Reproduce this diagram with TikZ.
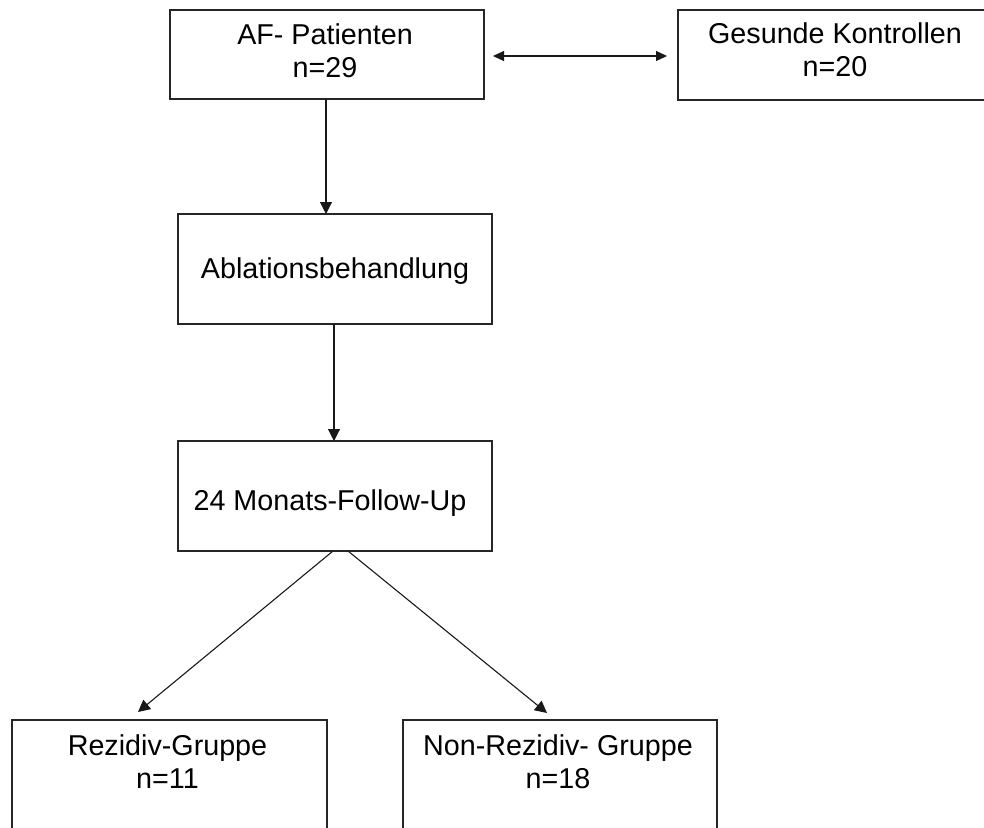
\documentclass[tikz,border=0pt]{standalone}
\usepackage{fontspec}
\setmainfont{Liberation Sans}
\usetikzlibrary{arrows.meta}
\tikzset{
  box/.style={draw=black!85, line width=1.3pt, rectangle, minimum width=314pt, inner sep=0pt, outer sep=0pt},
  txt/.style={anchor=base, inner sep=0pt, font=\fontsize{28.7}{33}\selectfont},
  conn/.style={draw=black!90, line width=1.1pt, -{Triangle[length=12pt,width=12pt]}},
  dconn/.style={draw=black!90, line width=1.1pt, {Triangle[length=11pt,width=10pt]}-{Triangle[length=11pt,width=10pt]}}
}
\newcommand{\twolines}[2]{\setlength{\tabcolsep}{0pt}\begin{tabular}[t]{c}#1\\#2\end{tabular}}
\begin{document}
\begin{tikzpicture}[x=1pt,y=-1pt]
\useasboundingbox (0,0) rectangle (984,827);
\clip (0,0) rectangle (984,827);
% boxes
\node[box, minimum height=89pt] (b1) at (327,54.5) {};
\node[box, minimum height=90pt] (b2) at (835,55) {};
\node[box, minimum height=110pt] (b3) at (335,269) {};
\node[box, minimum height=110pt] (b4) at (335,496) {};
\node[box, minimum width=315pt, minimum height=120pt] (b5) at (169.5,780) {};
\node[box, minimum height=120pt] (b6) at (560,780) {};
% texts
\node[txt] (t1) at (325,44) {\twolines{AF- Patienten}{n=29}};
\node[txt] (t2) at (835,43) {\twolines{Gesunde Kontrollen}{n=20}};
\node[txt] (t3) at (335,278) {Ablationsbehandlung};
\node[txt] (t4) at (330,510) {24 Monats-Follow-Up};
\node[txt] (t5) at (167.5,755) {\twolines{Rezidiv-Gruppe}{n=11}};
\node[txt] (t6) at (558,755) {\twolines{Non-Rezidiv- Gruppe}{n=18}};
% connectors
\draw[dconn] ([xshift=9pt,yshift=-1.5pt]b1.east) -- ([xshift=-11pt,yshift=-1pt]b2.west);
\draw[conn] ([xshift=-1pt]b1.south) -- ([xshift=-9pt]b3.north);
\draw[conn] ([xshift=-1pt]b3.south) -- ([xshift=-1pt]b4.north);
\draw[conn] ([xshift=-2pt]b4.south) -- ([xshift=-31.5pt,yshift=8pt]b5.north);
\draw[conn] ([xshift=13pt]b4.south) -- ([xshift=-13pt,yshift=7pt]b6.north);
\end{tikzpicture}
\end{document}
